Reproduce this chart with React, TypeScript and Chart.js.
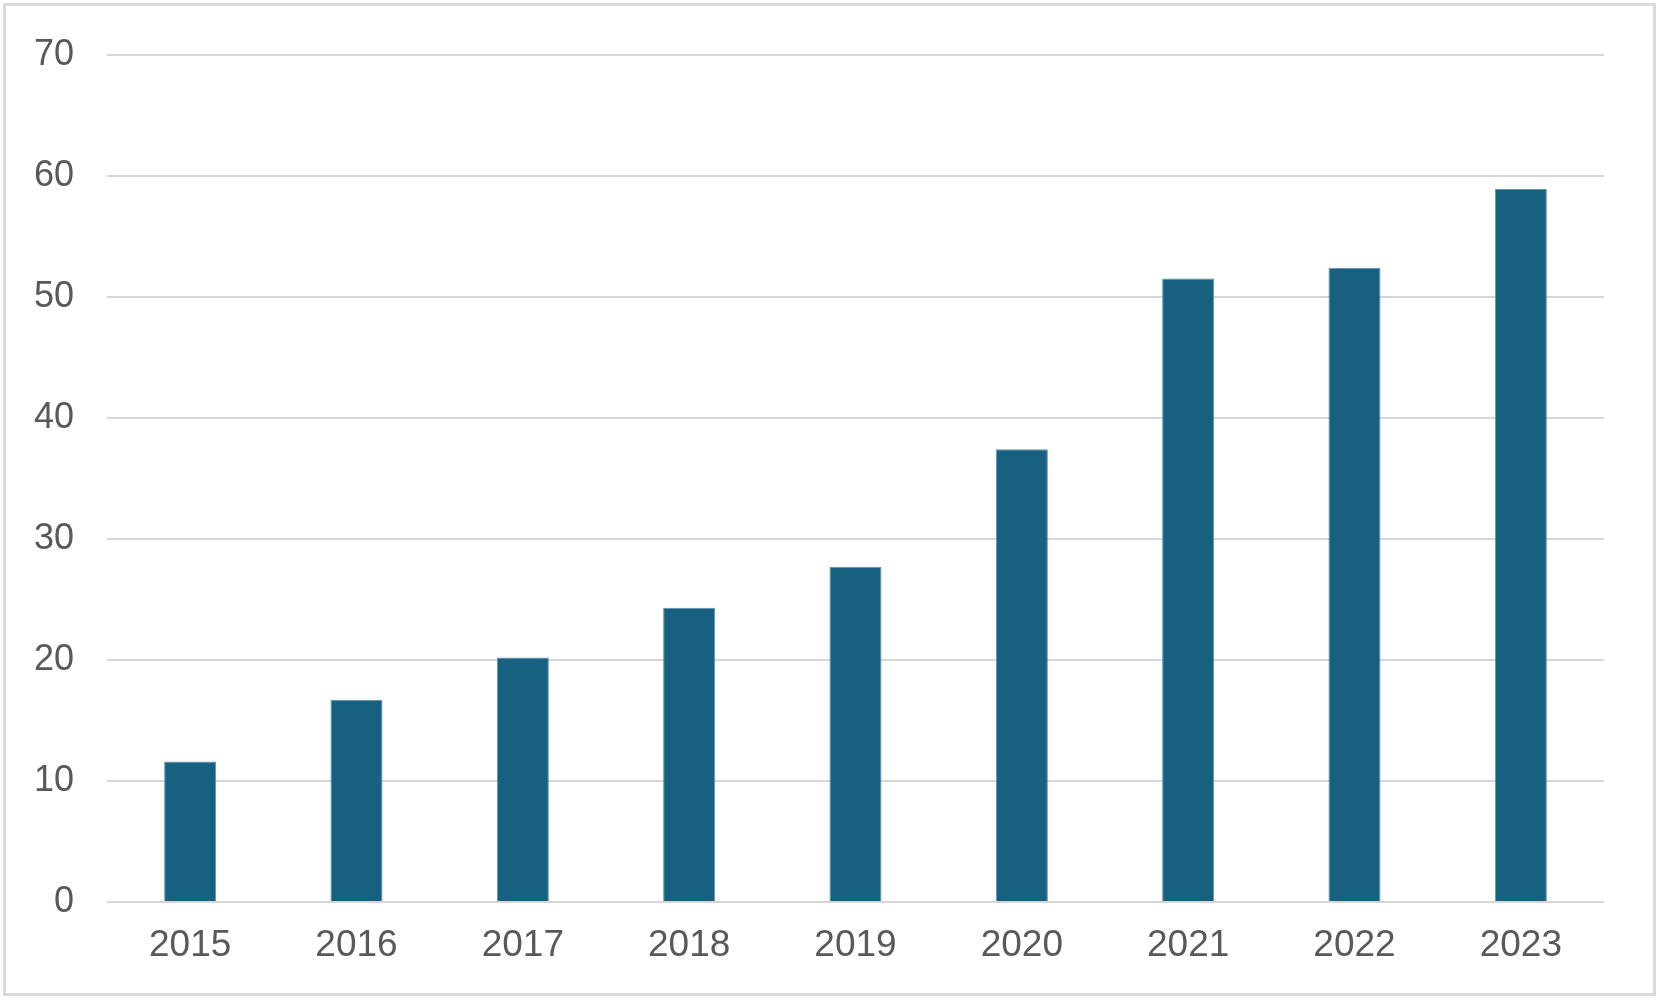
import React, { useEffect, useRef } from "react";
import { Chart, registerables } from "chart.js";

Chart.register(...registerables);

const years = ["2015", "2016", "2017", "2018", "2019", "2020", "2021", "2022", "2023"];
const values = [11.6, 16.7, 20.2, 24.3, 27.7, 37.4, 51.5, 52.4, 58.9];
const yTicks = [0, 10, 20, 30, 40, 50, 60, 70];

export default function App() {
  const ref = useRef<HTMLCanvasElement | null>(null);

  useEffect(() => {
    document.body.style.margin = "0";
    const ctx = ref.current;
    if (!ctx) return;
    const chart = new Chart(ctx, {
      type: "bar",
      data: {
        labels: years,
        datasets: [
          {
            data: values,
            backgroundColor: "#17607f",
            borderColor: "#5f93ab",
            borderWidth: 1,
            barPercentage: 0.313,
            categoryPercentage: 1,
          },
        ],
      },
      options: {
        animation: false,
        responsive: false,
        maintainAspectRatio: false,
        layout: { padding: { left: 0, right: 59, top: 52, bottom: 0 } },
        plugins: { legend: { display: false }, tooltip: { enabled: false } },
        scales: {
          x: {
            grid: { display: false, drawTicks: false },
            border: { display: false },
            ticks: {
              color: "#595959",
              font: { family: "'Liberation Sans', Arial, sans-serif", size: 37 },
              padding: 22,
              maxRotation: 0,
            },
            afterFit: (scale: any) => {
              scale.height = 101;
            },
          },
          y: {
            min: 0,
            max: 70,
            afterBuildTicks: (scale: any) => {
              scale.ticks = yTicks.map((v) => ({ value: v }));
            },
            grid: { color: "#d6d6d6", lineWidth: 2, drawTicks: false },
            border: { display: false },
            ticks: {
              color: "#595959",
              font: { family: "'Liberation Sans', Arial, sans-serif", size: 36 },
              padding: 33,
            },
            afterFit: (scale: any) => {
              scale.width = 107;
            },
          },
        },
      },
    });
    return () => chart.destroy();
  }, []);

  return (
    <div style={{ position: "relative", width: 1663, height: 1003, background: "#fff" }}>
      <div
        style={{
          position: "absolute",
          left: 3,
          top: 3,
          width: 1653,
          height: 993,
          border: "3px solid #dadada",
          boxSizing: "border-box",
        }}
      />
      <canvas
        ref={ref}
        width={1663}
        height={1003}
        style={{ position: "absolute", left: 0, top: 0, width: 1663, height: 1003 }}
      />
    </div>
  );
}
